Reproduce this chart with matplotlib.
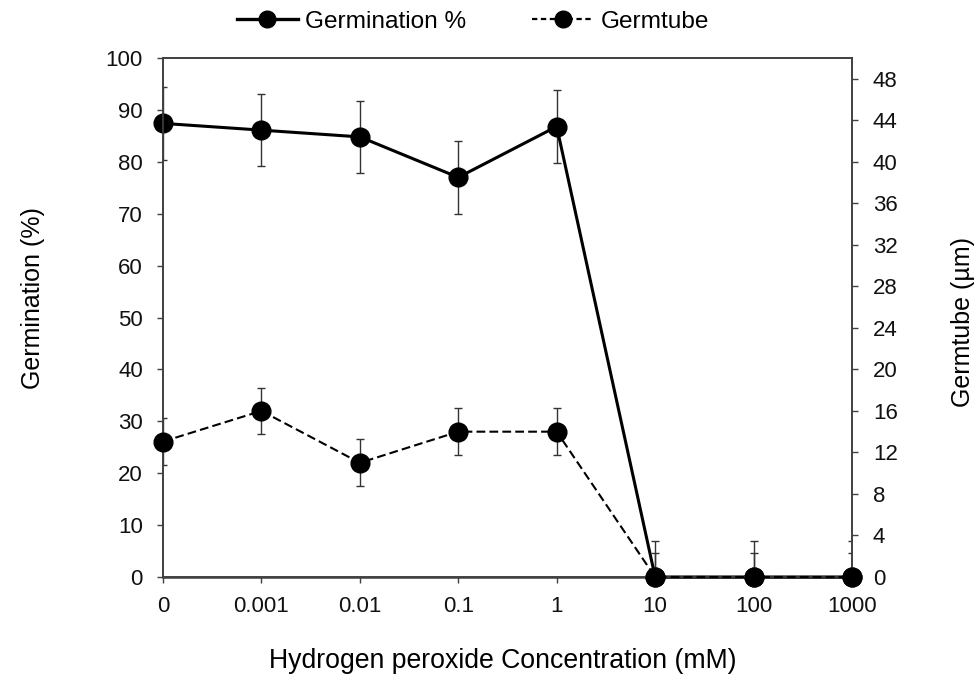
import matplotlib
matplotlib.use("Agg")
import matplotlib.pyplot as plt
from matplotlib.lines import Line2D

plt.rcParams['font.family'] = ['Liberation Sans', 'DejaVu Sans']

# Hydrogen peroxide concentrations (mM), shown as evenly spaced categories
concentrations = ["0", "0.001", "0.01", "0.1", "1", "10", "100", "1000"]
germination = [87.4, 86.1, 84.8, 77.0, 86.8, 0, 0, 0]          # %
germination_err = [7, 7, 7, 7, 7, 7, 7, 7]
germtube = [13.05, 16.0, 11.0, 14.0, 14.0, 0, 0, 0]             # µm
germtube_err = [2.25, 2.25, 2.25, 2.25, 2.25, 2.3, 2.3, 2.3]

x = list(range(len(concentrations)))

W, H = 979, 677
fig = plt.figure(figsize=(W / 100, H / 100), dpi=100)
ax = fig.add_axes([163 / W, 1 - 577 / H, (852 - 163) / W, (577 - 58) / H])
ax2 = ax.twinx()

axis_col = '#404040'
err_col = '#333333'
tick_fs = 16

# Germination on the left axis
ax.errorbar(x, germination, yerr=germination_err, fmt='none', ecolor=err_col,
            elinewidth=1, capsize=3, capthick=1, zorder=2)
ax.plot(x, germination, color='black', lw=2.2, marker='o', ms=13.5,
        mfc='black', mec='black', zorder=3, clip_on=False)

# Germ tube length on the right axis
ax2.errorbar(x, germtube, yerr=germtube_err, fmt='none', ecolor=err_col,
             elinewidth=1, capsize=3, capthick=1, zorder=2)
ax2.plot(x, germtube, color='black', lw=1.5, ls=(0, (4.2, 2.0)), marker='o',
         ms=13.5, mfc='black', mec='black', zorder=3, clip_on=False)

ax.set_xlim(0, 7)
ax.set_ylim(0, 100)
ax2.set_ylim(0, 50)
ax.set_xticks(x)
ax.set_xticklabels(concentrations)
ax.set_yticks(range(0, 101, 10))
ax2.set_yticks(range(0, 49, 4))

for a in (ax, ax2):
    for s in a.spines.values():
        s.set_color(axis_col)
        s.set_linewidth(1.2)
    a.tick_params(direction='out', length=4.5, width=1, color=axis_col,
                  labelsize=tick_fs, labelcolor='#111111')
ax.tick_params(axis='y', pad=10)
ax.tick_params(axis='x', pad=9)
ax2.tick_params(axis='y', pad=10.5)
ax.spines['bottom'].set_linewidth(1.8)

fig.text(503 / W, 1 - 661 / H, "Hydrogen peroxide Concentration (mM)",
         fontsize=19.2, ha='center', va='center')
fig.text(33 / W, 1 - 298 / H, "Germination (%)", fontsize=18,
         rotation=90, ha='center', va='center')
fig.text(963 / W, 1 - 322 / H, "Germtube (µm)", fontsize=18,
         rotation=90, ha='center', va='center')

handles = [
    Line2D([], [], color='black', lw=2.4, marker='o', ms=12),
    Line2D([], [], color='black', lw=1.6, ls=(0, (2.4, 1.6)), marker='o', ms=12),
]
fig.legend(handles, ["Germination %", "Germtube"], loc='center',
           bbox_to_anchor=(473 / W, 1 - 22 / H), ncol=2, frameon=False,
           fontsize=17.6, handlelength=2.5, columnspacing=2.7,
           handletextpad=0.3, borderpad=0)

fig.savefig("out.png", dpi=100)
